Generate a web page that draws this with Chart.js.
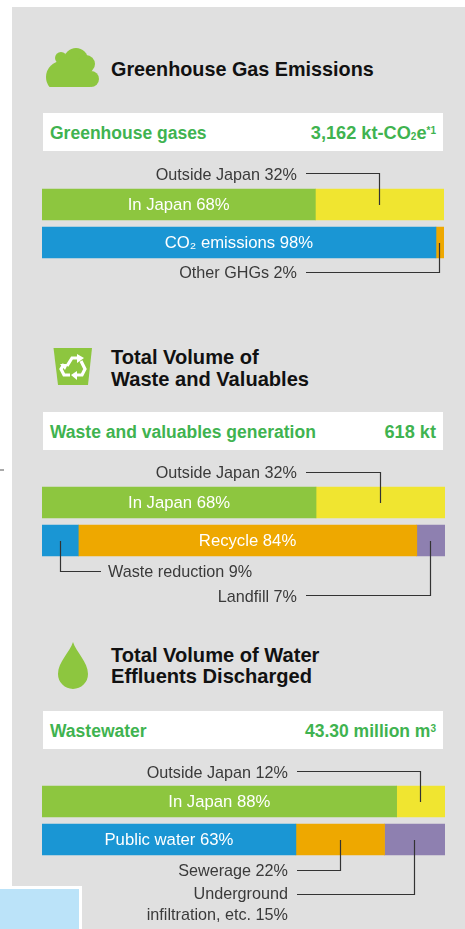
<!DOCTYPE html>
<html>
<head>
<meta charset="utf-8">
<script src="https://cdn.jsdelivr.net/npm/chart.js"></script>
<style>
  html, body { margin: 0; padding: 0; background: #fff; }
  #page { position: relative; width: 465px; height: 929px; overflow: hidden; font-family: "Liberation Sans", sans-serif; }
  #panel { position: absolute; left: 12px; top: 7px; right: 0; bottom: 0; background: #e0e0e0; }
  #icons { position: absolute; left: 0; top: 0; }
  canvas { position: absolute; left: 0; }
  .title { position: absolute; left: 111px; font-size: 19.8px; font-weight: bold; color: #111; white-space: nowrap; }
  .strip { position: absolute; left: 43px; width: 400px; height: 38px; line-height: 41px; background: #fff; color: #3fb350; font-size: 17.5px; font-weight: bold; }
  .strip span { position: absolute; white-space: nowrap; }
  .strip .name { left: 7px; }
  .strip .total { right: 7px; }
  .strip sub, .strip sup { font-size: 10px; line-height: 0; }
  .strip sub { vertical-align: -1px; }
  .strip sup { vertical-align: 5px; }
  #note { position: absolute; left: 0; top: 886px; width: 79px; height: 43px; background: #bbe3f9; border-top: 3px solid #fff; border-right: 3px solid #fff; }
  #tick { position: absolute; left: 0; top: 469px; width: 4px; height: 2px; background: #aaa; }
</style>
</head>
<body>
<div id="page">
  <div id="panel"></div>
  <svg id="icons" width="465" height="929">
    <defs><clipPath id="cloudClip"><rect x="40" y="40" width="70" height="47"></rect></clipPath></defs>
    <g fill="#8dc63f" clip-path="url(#cloudClip)">
      <circle cx="62" cy="77" r="16"></circle>
      <circle cx="76" cy="60" r="12"></circle>
      <circle cx="61" cy="58" r="6"></circle>
      <circle cx="86" cy="64" r="9"></circle>
      <circle cx="91" cy="79" r="8"></circle>
      <rect x="60" y="60" width="30" height="27"></rect>
    </g>
    <polygon points="53.5,348 92,348 88,385 58,385" fill="#8dc63f"></polygon>
    <g fill="none" stroke="#fff" stroke-width="3.2">
      <path d="M67 366 L72 358 L78 358"></path>
      <path d="M81 361 L85 369 L82 375 L76 375"></path>
      <path d="M70 375 L64 375 L61 369 L64 364"></path>
    </g>
    <g fill="#fff">
      <polygon points="77,354 84,358 77,363"></polygon>
      <polygon points="77,371 77,380 71,375"></polygon>
      <polygon points="60,364 68,364 65,370"></polygon>
    </g>
    <path d="M73 642 C70 652 58 662 58 674 A15 15 0 0 0 88 674 C88 662 76 652 73 642Z" fill="#8dc63f"></path>
  </svg>

  <div class="title" style="top:58px">Greenhouse Gas Emissions</div>
  <div class="strip" style="top:113px"><span class="name">Greenhouse gases</span><span class="total" style="font-size:18.2px">3,162 kt-CO<sub>2</sub>e<sup>*1</sup></span></div>

  <div class="title" style="top:346px;line-height:22px;font-size:20.1px">Total Volume of<br>Waste and Valuables</div>
  <div class="strip" style="top:412px"><span class="name">Waste and valuables generation</span><span class="total" style="font-size:18.2px">618 kt</span></div>

  <div class="title" style="top:645px;line-height:21px;font-size:20.1px">Total Volume of Water<br>Effluents Discharged</div>
  <div class="strip" style="top:711px"><span class="name">Wastewater</span><span class="total">43.30 million m<sup>3</sup></span></div>

  <div id="tick"></div>
  <div id="note"></div>
</div>

<script>
// values, in percent
const categories = ["Location", "Breakdown"];

const ghgLocation = [68, 32];
const ghgBreakdown = [98, 2];
const wasteLocation = [68, 32];
const wasteBreakdown = [9, 84, 7];
const waterLocation = [88, 12];
const waterBreakdown = [63, 22, 15];

const locationLabels = ["In Japan", "Outside Japan"];
const ghgLabels = ["CO₂ emissions", "Other GHGs"];
const wasteLabels = ["Waste reduction", "Recycle", "Landfill"];
const waterLabels = ["Public water", "Sewerage", "Underground\ninfiltration, etc."];

const rowColors = [
  ["#8dc63f", "#f0e530"],
  ["#1a96d4", "#eea800", "#8e80b0"]
];

// bar text is drawn inside the segment, callouts hang off its middle
const barLabels = {
  id: "barLabels",
  afterDatasetsDraw(chart, args, opts) {
    const ctx = chart.ctx;
    ctx.save();
    ctx.textBaseline = "middle";

    ctx.font = '16.7px "Liberation Sans"';
    opts.inside.forEach(item => {
      const bar = chart.getDatasetMeta(item.seg).data[item.row];
      ctx.fillStyle = "#fff";
      ctx.textAlign = "center";
      ctx.fillText(labelFor(opts, item), bar.x - bar.width / 2, bar.y + 1);
    });

    ctx.font = '16.2px "Liberation Sans"';
    opts.callouts.forEach(item => {
      const bar = chart.getDatasetMeta(item.seg).data[item.row];
      const lx = Math.floor(bar.x - bar.width / 2) + 0.5;
      const ly = item.y - opts.top + 0.5;
      ctx.strokeStyle = "#333";
      ctx.lineWidth = 1.2;
      ctx.beginPath();
      ctx.moveTo(lx, Math.round(bar.y));
      ctx.lineTo(lx, ly);
      ctx.lineTo(item.lineTo, ly);
      ctx.stroke();

      ctx.fillStyle = "#3a3a3a";
      ctx.textAlign = item.align;
      labelFor(opts, item).split("\n").forEach((line, i) => {
        ctx.fillText(line, item.textX, ly + item.dy + i * 21);
      });
    });
    ctx.restore();
  }
};

function labelFor(opts, item) {
  return opts.names[item.row][item.seg] + " " + opts.values[item.row][item.seg] + "%";
}

function drawGroup(top, height, padTop, padRight, names, values, inside, callouts) {
  const canvas = document.createElement("canvas");
  canvas.style.top = top + "px";
  canvas.width = 465;
  canvas.height = height;
  document.getElementById("page").appendChild(canvas);

  const segments = Math.max(values[0].length, values[1].length);
  const datasets = [];
  for (let s = 0; s < segments; s++) {
    datasets.push({
      data: values.map(row => row[s] === undefined ? null : row[s]),
      backgroundColor: rowColors.map(c => c[s]),
      barThickness: 31
    });
  }

  new Chart(canvas.getContext("2d"), {
    type: "bar",
    data: { labels: categories, datasets: datasets },
    options: {
      indexAxis: "y",
      responsive: false,
      animation: false,
      layout: { padding: { left: 42, right: padRight, top: padTop, bottom: height - padTop - 76 } },
      scales: {
        x: { display: false, stacked: true, min: 0, max: 100 },
        y: { display: false, stacked: true }
      },
      plugins: {
        legend: { display: false },
        tooltip: { enabled: false },
        barLabels: { top: top, names: names, values: values, inside: inside, callouts: callouts }
      }
    },
    plugins: [barLabels]
  });
}

drawGroup(160, 120, 25.5, 21, [locationLabels, ghgLabels], [ghgLocation, ghgBreakdown],
  [{ row: 0, seg: 0 }, { row: 1, seg: 0 }],
  [
    { row: 0, seg: 1, y: 173, lineTo: 306, textX: 297, align: "right", dy: 2 },
    { row: 1, seg: 1, y: 272, lineTo: 306, textX: 297, align: "right", dy: 1 }
  ]);

drawGroup(460, 150, 23.5, 20, [locationLabels, wasteLabels], [wasteLocation, wasteBreakdown],
  [{ row: 0, seg: 0 }, { row: 1, seg: 1 }],
  [
    { row: 0, seg: 1, y: 472, lineTo: 306, textX: 297, align: "right", dy: 1 },
    { row: 1, seg: 0, y: 571, lineTo: 101, textX: 108, align: "left", dy: 1 },
    { row: 1, seg: 2, y: 595, lineTo: 306, textX: 297, align: "right", dy: 2 }
  ]);

drawGroup(760, 165, 22.5, 20, [locationLabels, waterLabels], [waterLocation, waterBreakdown],
  [{ row: 0, seg: 0 }, { row: 1, seg: 0 }],
  [
    { row: 0, seg: 1, y: 771, lineTo: 297, textX: 288, align: "right", dy: 2 },
    { row: 1, seg: 1, y: 870, lineTo: 297, textX: 288, align: "right", dy: 1 },
    { row: 1, seg: 2, y: 894, lineTo: 297, textX: 288, align: "right", dy: 0 }
  ]);
</script>
</body>
</html>
